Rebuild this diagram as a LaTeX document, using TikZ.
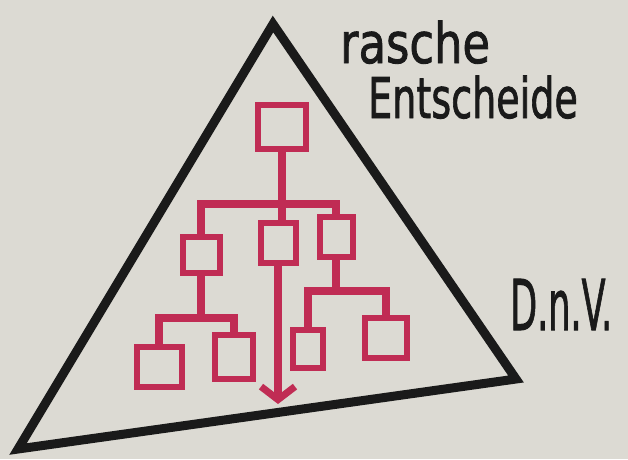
\documentclass[tikz,border=0pt]{standalone}
\usepackage{fontspec}
\usepackage{graphicx}
\usepackage{tikz}
\usetikzlibrary{arrows.meta,positioning,calc}
\newfontfamily\hand[FakeBold=1.6]{DejaVu Sans}
\definecolor{paper}{RGB}{220,218,211}
\definecolor{marker}{RGB}{26,26,26}
\definecolor{crimson}{RGB}{192,44,84}
\tikzset{
  pyr/.style={draw=marker, line width=9pt, line join=miter, line cap=round},
  unit/.style={draw=crimson, line width=6pt, fill=paper, inner sep=0pt},
  link/.style={draw=crimson, line width=7.5pt},
  down/.style={link, -{Straight Barb[length=13pt,width=34pt,line width=7pt]}},
  words/.style={text=marker, inner sep=0pt,
    font=\hand\fontsize{56}{60}\selectfont}
}

\begin{document}
\begin{tikzpicture}[x=1pt,y=-1pt]
  \fill[paper] (0,0) rectangle (628,459);
  \useasboundingbox (0,0) rectangle (628,459);

  % triangle
  \coordinate (apex) at (273,24);
  \coordinate (bl) at (18,449);
  \coordinate (br) at (516,379);
  \draw[pyr] (apex) -- (br) -- (bl) -- cycle;

  % org chart
  \node[unit, minimum width=48pt, minimum height=44pt] (top) at (282,127) {};
  \node[unit, minimum width=37pt, minimum height=36pt] (ml) at (201,255) {};
  \node[unit, minimum width=35pt, minimum height=40pt] (mc) at (278,243) {};
  \node[unit, minimum width=33pt, minimum height=40pt] (mr) at (336,237) {};
  \node[unit, minimum width=45pt, minimum height=40pt] (b1) at (159,367) {};
  \node[unit, minimum width=38pt, minimum height=44pt] (b2) at (234,357) {};
  \node[unit, minimum width=30pt, minimum height=38pt] (b3) at (308,349) {};
  \node[unit, minimum width=42pt, minimum height=40pt] (b4) at (386,338) {};

  \coordinate (bar1) at (0,204);
  \coordinate (bar2) at (0,318);
  \coordinate (bar3) at (0,291);
  \coordinate (tip) at (278,404);

  \draw[link] (top.south) -- (top.south |- mc.north);
  \draw[link] (ml.north) -- (ml.north |- bar1) -- (mr.north |- bar1) -- (mr.north);
  \draw[link] (ml.south) -- (ml.south |- bar2);
  \draw[link] (b1.north) -- (b1.north |- bar2) -- (b2.north |- bar2) -- (b2.north);
  \draw[link] (mr.south) -- (mr.south |- bar3);
  \draw[link] (b3.north) -- (b3.north |- bar3) -- (b4.north |- bar3) -- (b4.north);
  \draw[down] (mc.south) -- (tip);

  % labels
  \node[words, anchor=base west] (fast) at (340,63) {\scalebox{0.8}[1]{rasche}};
  \node[words, anchor=base west] (dec) at (368,118) {\scalebox{0.68}[1]{Entscheide}};
  \node[words, anchor=base west, font=\hand\fontsize{70}{74}\selectfont] (dnv) at (510,330) {\scalebox{0.5}[1]{D.n.V.}};
\end{tikzpicture}
\end{document}
